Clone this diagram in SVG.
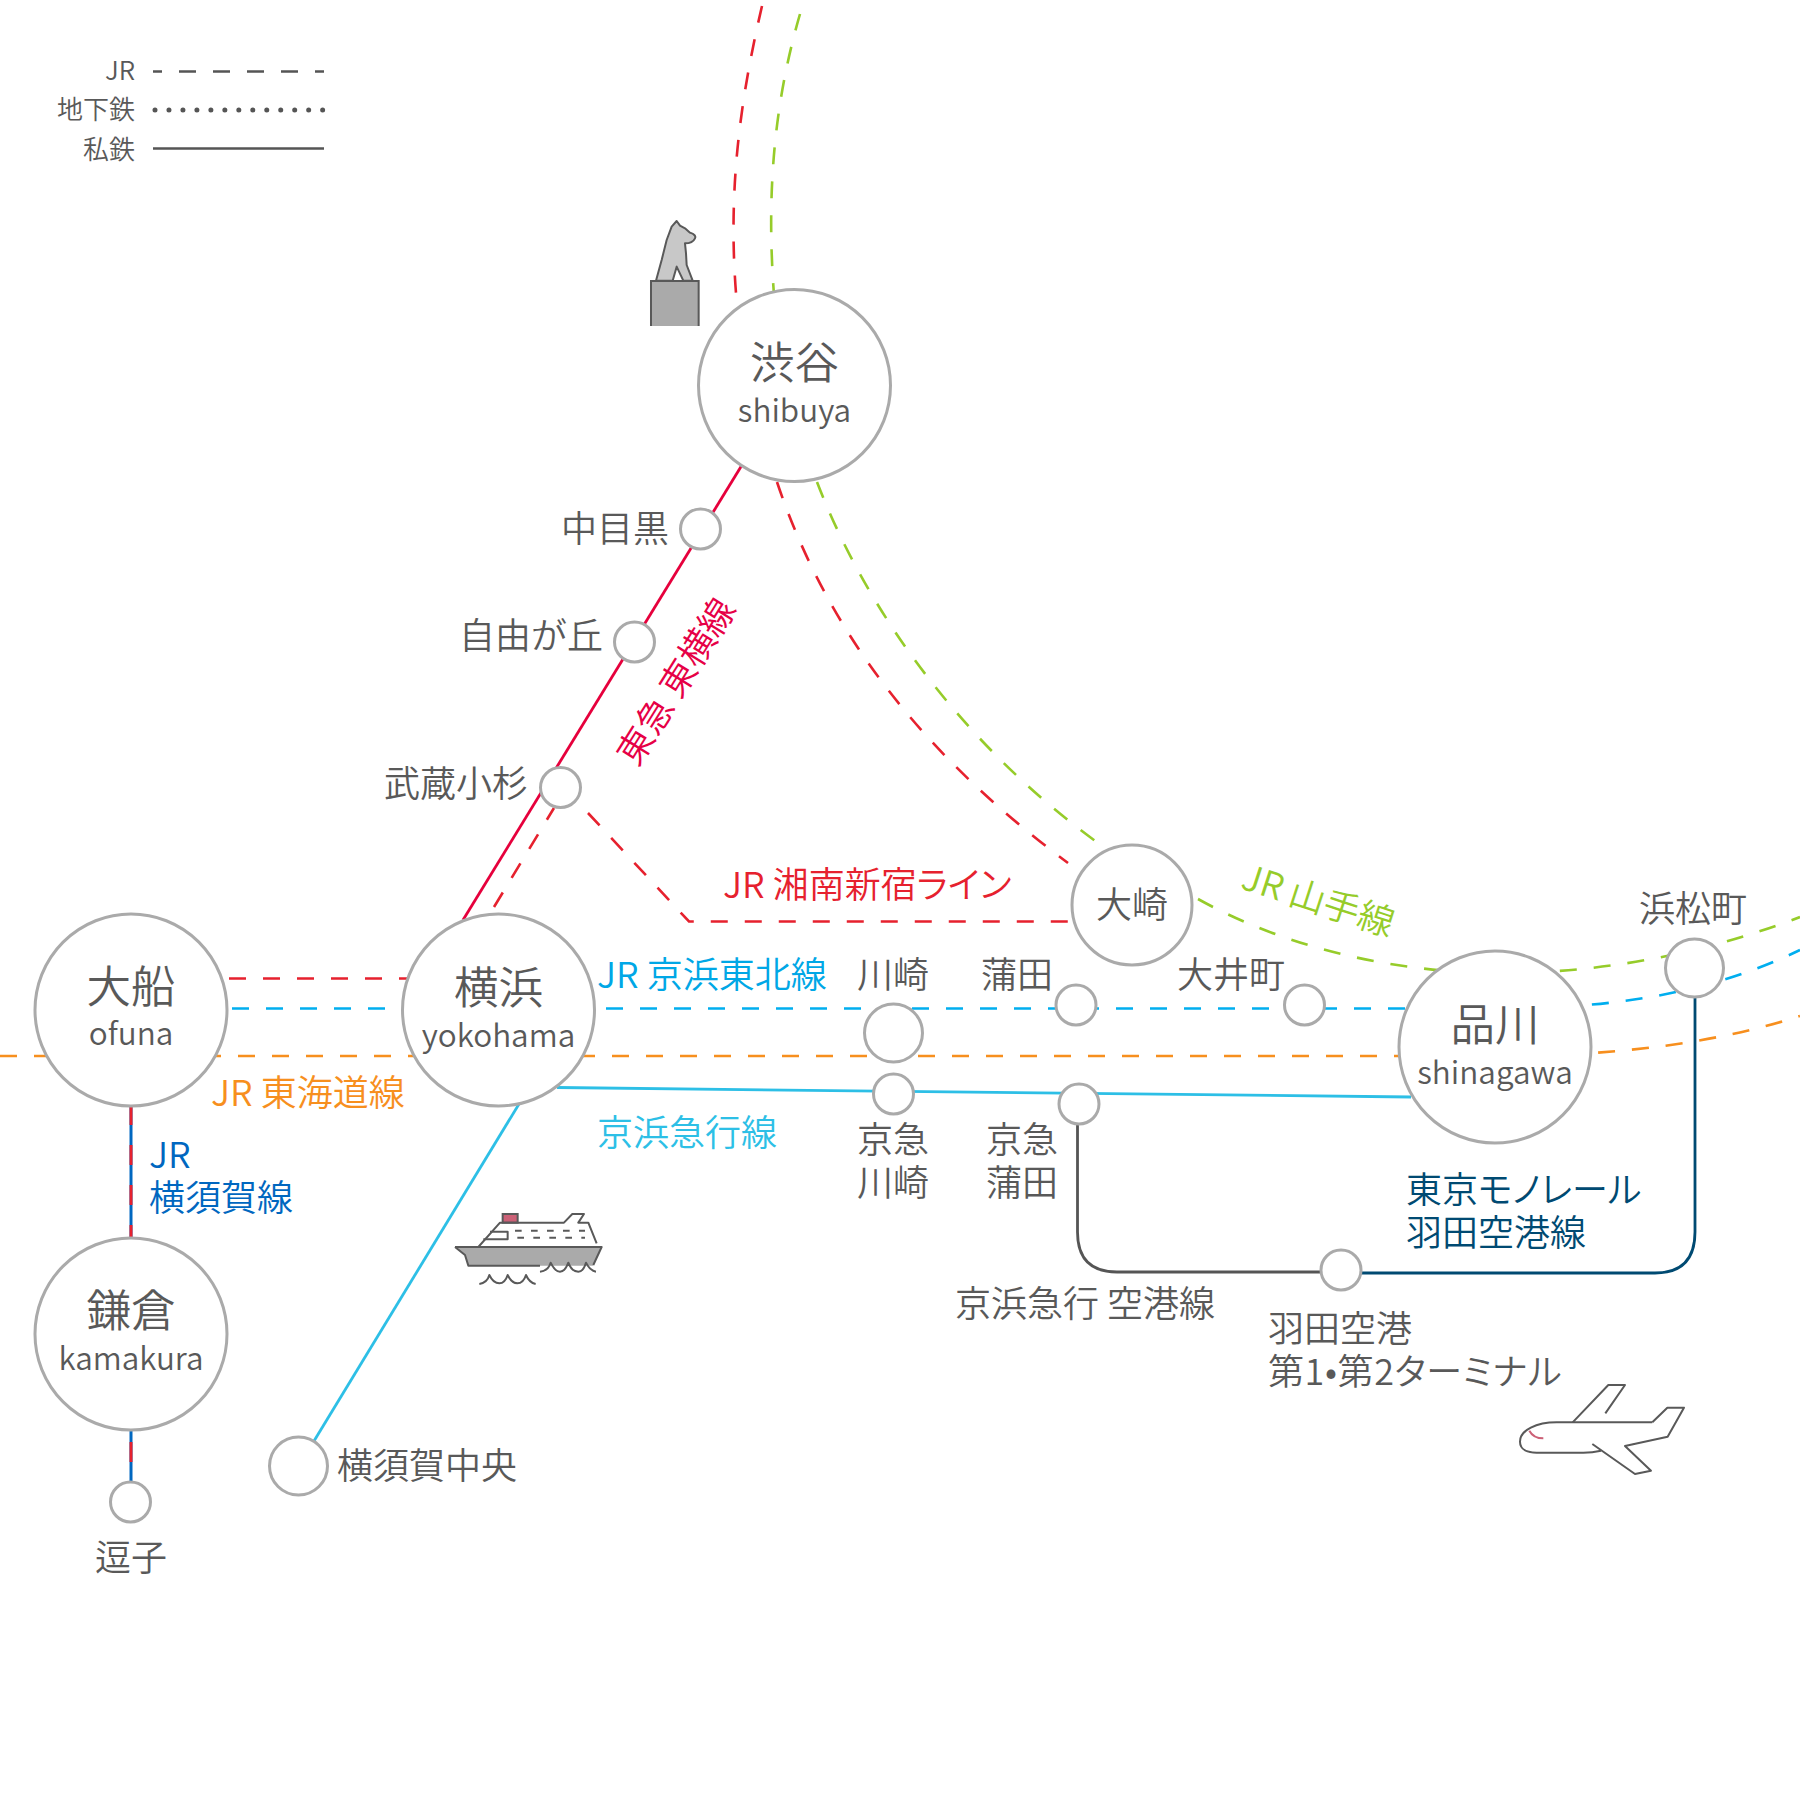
<svg xmlns="http://www.w3.org/2000/svg" width="1800" height="1800" viewBox="0 0 1800 1800">
<style>
text{font-family:"Noto Sans CJK JP","Noto Sans",sans-serif;font-weight:350;fill:#595959;font-size:36px}
.m{text-anchor:middle}.e{text-anchor:end}
.k{font-feature-settings:"palt"}
.big{font-size:44.500px}.lat{font-size:31.500px}.leg{font-size:26px}
.st{fill:#fff;stroke:#aaa;stroke-width:3}
#connectors path,#connectors line{fill:none}
.d{stroke-width:2.6;stroke-dasharray:17 17}
.s{stroke-width:2.8}
.ill{stroke:#595959;fill:none;stroke-width:6;stroke-linejoin:round}
.red{stroke:#e6212e}.grn{stroke:#96cc2a}.blu{stroke:#00aeef}.org{stroke:#f78f1e}
</style>
<rect width="1800" height="1800" fill="#fff"/>
<g id="legend">
<text class="leg e" x="135" y="80">JR</text>
<text class="leg e" x="135" y="119">地下鉄</text>
<text class="leg e" x="135" y="159">私鉄</text>
<line x1="153" y1="71.500" x2="324" y2="71.500" stroke="#555" stroke-width="2.600" stroke-dasharray="17 17" stroke-dashoffset="8"/>
<line x1="155" y1="110" x2="323" y2="110" stroke="#555" stroke-width="5" stroke-linecap="round" stroke-dasharray="0 13.970"/>
<line x1="153" y1="148.500" x2="324" y2="148.500" stroke="#555" stroke-width="2.600"/>
</g>
<g id="connectors">
<path class="d red" d="M762,6 C740,100 728,190 736,293"/>
<path class="d grn" d="M800,14 C775,100 766,190 774,295"/>
<path class="d red" d="M777,482 C830,640 930,760 1068,863"/>
<path class="d grn" d="M817,482 C870,620 970,750 1098,843"/>
<path class="d grn" d="M1198,899 C1290,950 1400,973 1500,973 C1600,973 1700,955 1800,917"/>
<path class="d blu" d="M232,1008.500 H1500 C1600,1008 1700,998 1800,950"/>
<path class="d org" d="M0,1056 H1500 C1620,1056 1720,1042 1800,1016"/>
<line class="d red" x1="229" y1="978.500" x2="410" y2="978.500"/>
<line class="d red" x1="494" y1="907" x2="554" y2="808"/>
<path class="d red" d="M588,813 L689,921.500 H1068"/>
<line class="s" stroke="#e6003c" x1="742" y1="465" x2="463" y2="920"/>
<line class="s" stroke="#2dbfe6" x1="519" y1="1104" x2="314" y2="1441"/>
<line class="s" stroke="#2dbfe6" x1="557" y1="1087.500" x2="1411" y2="1097"/>
<path class="s" stroke="#555" d="M1077.500,1120 V1232 Q1077.500,1272 1117,1272 H1330"/>
<path class="s" stroke="#004a72" d="M1695,990 V1232 Q1695,1273 1655,1273 H1352"/>
<line x1="131" y1="1105" x2="131" y2="1240" stroke="#0067c0" stroke-width="3"/>
<line x1="131" y1="1105" x2="131" y2="1240" stroke="#e6212e" stroke-width="3" stroke-dasharray="20 20"/>
<line x1="131" y1="1430" x2="131" y2="1485" stroke="#0067c0" stroke-width="3"/>
<line x1="131" y1="1430" x2="131" y2="1485" stroke="#e6212e" stroke-width="3" stroke-dasharray="20 20" stroke-dashoffset="-12"/>
</g>
<g id="shibuya"><circle class="st" cx="794.500" cy="385.500" r="96"/><text class="big m" x="794.500" y="379">渋谷</text><text class="lat m" x="794.500" y="422">shibuya</text></g>
<g id="ofuna"><circle class="st" cx="131" cy="1010" r="96"/><text class="big m" x="131" y="1003">大船</text><text class="lat m" x="131" y="1045">ofuna</text></g>
<g id="yokohama"><circle class="st" cx="498.500" cy="1010" r="96"/><text class="big m" x="498.500" y="1004">横浜</text><text class="lat m" x="498.500" y="1047">yokohama</text></g>
<g id="kamakura"><circle class="st" cx="131" cy="1334" r="96"/><text class="big m" x="131" y="1327">鎌倉</text><text class="lat m" x="131" y="1370">kamakura</text></g>
<g id="shinagawa"><circle class="st" cx="1495" cy="1047" r="96"/><text class="big m" x="1495" y="1041">品川</text><text class="lat m" x="1495" y="1084">shinagawa</text></g>
<g id="osaki"><circle class="st" cx="1132" cy="905" r="60"/><text class="m" x="1132" y="918">大崎</text></g>
<g id="hamamatsucho"><circle class="st" cx="1694.500" cy="968" r="29"/><text class="m" x="1693" y="922">浜松町</text></g>
<g id="kawasaki"><circle class="st" cx="893.500" cy="1033" r="29"/><text class="m" x="893" y="988">川崎</text></g>
<g id="kamata"><circle class="st" cx="1076" cy="1005" r="20"/><text class="m" x="1017" y="988">蒲田</text></g>
<g id="oimachi"><circle class="st" cx="1304.500" cy="1005" r="20"/><text class="m" x="1231" y="988">大井町</text></g>
<g id="nakameguro"><circle class="st" cx="700.500" cy="529" r="20"/><text class="e" x="669" y="542">中目黒</text></g>
<g id="jiyugaoka"><circle class="st" cx="634.500" cy="642" r="20"/><text class="e" x="603" y="649">自由が丘</text></g>
<g id="musashikosugi"><circle class="st" cx="560.500" cy="787.500" r="20"/><text class="e" x="528" y="797">武蔵小杉</text></g>
<g id="keikyu-kawasaki"><circle class="st" cx="893.500" cy="1094" r="20"/><text class="m" x="893" y="1153">京急</text><text class="m" x="893" y="1196">川崎</text></g>
<g id="keikyu-kamata"><circle class="st" cx="1079" cy="1104" r="20"/><text class="m" x="1022" y="1153">京急</text><text class="m" x="1022" y="1196">蒲田</text></g>
<g id="haneda"><circle class="st" cx="1341" cy="1270" r="20"/><text x="1268" y="1342">羽田空港</text><text class="k" x="1268" y="1385" letter-spacing=".6">第1•第2ターミナル</text></g>
<g id="yokosuka-chuo"><circle class="st" cx="298.500" cy="1466" r="29"/><text x="337" y="1479">横須賀中央</text></g>
<g id="zushi"><circle class="st" cx="130.500" cy="1502" r="20"/><text class="m" x="131" y="1571">逗子</text></g>
<g id="line-labels">
<text class="k" x="723" y="898" style="fill:#e6212e">JR 湘南新宿ライン</text>
<text transform="translate(677,682) rotate(-58)" class="m" y="12" style="fill:#e60046">東急 東横線</text>
<text transform="translate(1318,901) rotate(18)" class="m" y="12" style="fill:#96cc2a">JR 山手線</text>
<text x="597" y="988" style="fill:#00a7e6">JR 京浜東北線</text>
<text x="211" y="1106" style="fill:#f78f1e">JR 東海道線</text>
<text x="597" y="1146" style="fill:#2dbfe6">京浜急行線</text>
<text class="k" x="1406" y="1203" style="fill:#004a72">東京モノレール</text>
<text x="1406" y="1246" style="fill:#004a72">羽田空港線</text>
<text x="955" y="1317">京浜急行 空港線</text>
<text x="149" y="1168" style="fill:#0067c0">JR</text>
<text x="149" y="1211" style="fill:#0067c0">横須賀線</text>
</g>
<g id="hachiko" transform="translate(630,210) scale(.3333)">
<path d="M63,348 V213 H206 V348" fill="#aaa" stroke="#595959" stroke-width="6"/>
<path d="M78,212 L95,150 L110,90 L125,50 L140,33 L150,47 L165,55 L180,68 Q200,75 195,85 Q188,100 165,100 L168,130 L170,165 L188,212 L160,212 L140,170 L128,212 Z" fill="#c8c8c8" stroke="#595959" stroke-width="6" stroke-linejoin="round"/>
</g>
<g id="ship" transform="translate(440,1200) scale(.3333)">
<path d="M45,141 H485 L460,197 H85 L75,165 Z" fill="#aaa"/>
<rect x="188" y="42" width="45" height="26" fill="#cc6177" stroke="#595959" stroke-width="6"/>
<g class="ill">
<path d="M115,141 L180,68 H372 L397,42 H432 L415,68 H445 L470,130"/>
<path d="M150,95 H203 V118 H130"/>
<path d="M225,92 H435 M232,113 H435" stroke-dasharray="20 28"/>
<path d="M45,141 H485 L460,195 M45,141 L75,165 L85,197 H300"/>
<path d="M300,215 Q325,212 332,188 Q345,215 360,215 Q375,215 385,188 Q395,215 415,215 Q430,215 438,188 Q450,212 468,215"/>
<path d="M118,252 Q142,248 148,225 Q160,250 178,250 Q195,250 203,225 Q215,250 232,250 Q250,250 258,225 Q268,248 287,252"/>
</g>
</g>
<g id="plane" transform="translate(1500,1370) scale(.3333)">
<g class="ill">
<path d="M457,157 H170 C110,157 60,180 60,215 C60,240 85,248 110,248 H250 C275,248 290,245 303,242"/>
<path d="M218,157 L325,45 H375 L316,130"/>
<path d="M277,222 L405,312 L453,302 L375,228 L503,200 L552,113 H502 L457,157"/>
</g>
<path d="M88,182 C95,195 110,205 130,205" stroke="#cc6177" stroke-width="6" fill="none"/>
</g>
</svg>
